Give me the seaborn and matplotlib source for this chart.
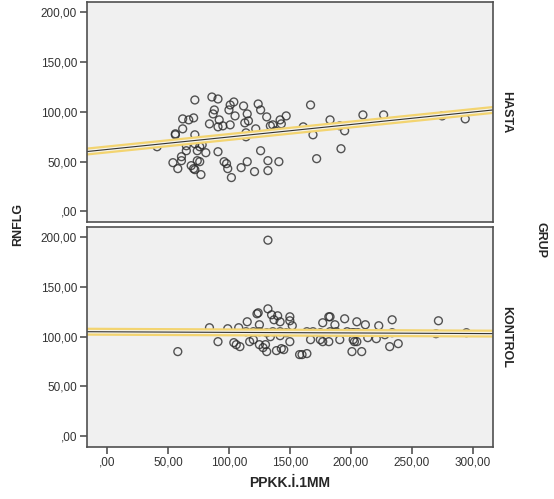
import numpy as np
import pandas as pd
import seaborn as sns
import matplotlib.pyplot as plt
import matplotlib.patheffects as pe
from matplotlib.ticker import FuncFormatter

# HASTA group (x = PPKK.İ.1MM, y = RNFLG)
hasta_x = [72, 86, 91, 88, 87, 101, 104, 100, 112, 115, 105, 124, 126, 131, 142, 147,
           62, 67, 71, 92, 84, 91, 95, 101, 113, 116, 134, 136, 62, 122, 56, 56, 72, 114,
           41, 65, 72, 76, 61, 65, 74, 81, 91, 126, 114, 54, 58, 61, 69, 71, 74, 76, 72,
           77, 96, 98, 99, 102, 110, 115, 121, 132, 132, 141, 143, 167, 161, 169, 183,
           191, 195, 192, 172, 210, 227, 275, 294, 78, 138]
hasta_y = [112, 115, 113, 102, 98, 107, 110, 102, 106, 98, 96, 108, 102, 95, 92, 96,
           93, 92, 94, 92, 88, 85, 86, 87, 89, 91, 86, 87, 83, 83, 78, 77, 77, 79,
           65, 66, 68, 65, 55, 61, 61, 59, 60, 61, 75, 49, 43, 51, 46, 43, 51, 50, 42,
           37, 50, 48, 43, 34, 44, 50, 40, 41, 51, 50, 88, 107, 85, 77, 92,
           86, 81, 63, 53, 97, 97, 96, 93, 67, 81]

# KONTROL group
kontrol_x = [132, 58, 84, 91, 99, 104, 106, 109, 115, 124, 125, 132, 135, 140, 137, 142,
             150, 150, 117, 125, 130, 131, 139, 143, 150, 134, 142, 158, 123, 152, 108,
             114, 120, 125, 131, 136, 142, 147, 120, 128, 160, 164, 167, 175, 177, 182,
             191, 201, 203, 182, 183, 177, 187, 195, 205, 164, 169, 175, 183, 188, 197,
             203, 212, 223, 234, 201, 206, 214, 221, 228, 234, 202, 205, 209, 232, 239,
             272, 270, 295, 145]
kontrol_y = [197, 85, 109, 95, 108, 94, 92, 90, 115, 124, 112, 128, 122, 121, 117, 115,
             120, 116, 95, 92, 92, 85, 86, 88, 95, 100, 101, 82, 123, 111, 109,
             105, 105, 105, 104, 105, 105, 104, 97, 89, 82, 83, 97, 97, 95, 95,
             97, 85, 95, 120, 120, 114, 112, 118, 115, 105, 105, 104, 105, 105, 105,
             104, 112, 111, 117, 104, 104, 99, 98, 102, 104, 97, 95, 85, 90, 93,
             116, 103, 104, 87]

groups = ["HASTA", "KONTROL"]
x_ticks = [0, 50, 100, 150, 200, 250, 300]
y_ticks = [0, 50, 100, 150, 200]

df = pd.DataFrame({
    "PPKK": hasta_x + kontrol_x,
    "RNFLG": hasta_y + kontrol_y,
    "GRUP": ["HASTA"] * len(hasta_x) + ["KONTROL"] * len(kontrol_x),
})

sns.set_style("ticks")
plt.rcParams["font.family"] = ["Liberation Sans", "DejaVu Sans"]
plt.rcParams["axes.facecolor"] = "#f0f0f0"
plt.rcParams["axes.edgecolor"] = "#505050"
plt.rcParams["axes.linewidth"] = 1.2

g = sns.FacetGrid(df, row="GRUP", row_order=groups, margin_titles=True,
                  despine=False, sharex=True, sharey=True)
g.figure.set_size_inches(5.54, 4.99)
g.set(xlim=(-16.8, 316.4), ylim=(-11, 210.5))

# fit line with the yellow highlight band around it
band = [pe.Stroke(linewidth=5.8, foreground="#f3d470", capstyle="round"),
        pe.Stroke(linewidth=2.6, foreground="#f4f2e8", capstyle="round"),
        pe.Normal()]
g.map_dataframe(sns.regplot, x="PPKK", y="RNFLG", ci=None, truncate=False,
                scatter_kws=dict(s=32, facecolors="none", edgecolors="#2b2b2b",
                                 linewidths=1.0),
                line_kws=dict(color="#333333", lw=0.8, path_effects=band))

g.set_titles(row_template="{row_name}", col_template="", fontweight="bold", size=9)

fmt = FuncFormatter(lambda v, p: ("%.2f" % v).replace(".", ",").lstrip("0")
                    if v == 0 else ("%.2f" % v).replace(".", ","))
for ax in g.axes.flat:
    ax.set_xticks(x_ticks)
    ax.set_yticks(y_ticks)
    ax.xaxis.set_major_formatter(fmt)
    ax.yaxis.set_major_formatter(fmt)
    ax.tick_params(length=5, width=1.1, color="#444444", labelsize=8.5,
                   labelcolor="#333333", pad=2)
    ax.set_ylabel("")
    ax.set_xlabel("")

g.axes[0, 0].tick_params(axis="x", bottom=False)
g.axes[1, 0].set_xlabel("PPKK.İ.1MM", fontsize=10, fontweight="bold", labelpad=5)

g.figure.text(0.032, 0.55, "RNFLG", rotation=90, ha="center", va="center",
              fontsize=9, fontweight="bold")
g.figure.text(0.975, 0.52, "GRUP", rotation=270, ha="center", va="center",
              fontsize=9, fontweight="bold")

g.figure.subplots_adjust(left=0.1565, right=0.889, top=0.996, bottom=0.104, hspace=0.02)
g.figure.savefig("out.png", dpi=100)
